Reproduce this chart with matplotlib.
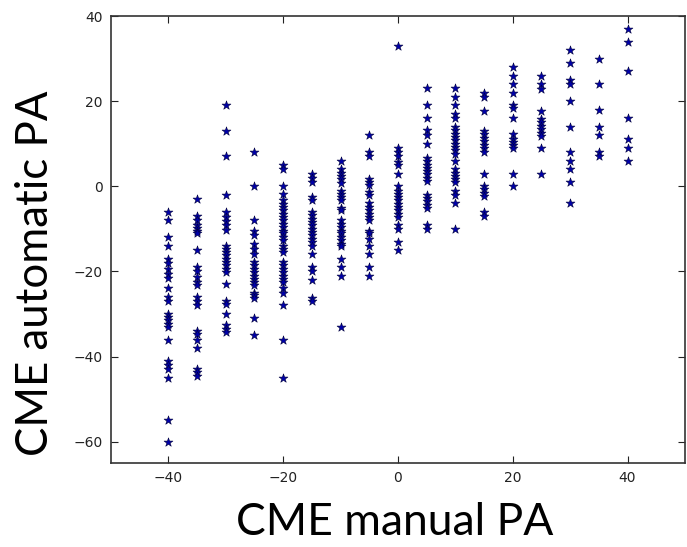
import numpy as np
import matplotlib
matplotlib.use("Agg")
import matplotlib.pyplot as plt

# manual PA columns and the automatic PA values read for each
manual_pa = [-40, -35, -30, -25, -20, -15, -10, -5, 0, 5, 10, 15, 20, 25, 30, 35, 40]

auto_m40 = [-6, -8, -12, -14, -17, -18, -19.5, -20.5, -21.5, -24, -26, -27, -30, -30.7,
            -31.5, -32.3, -33, -36, -41, -42, -43, -45, -55, -60]
auto_m35 = [-3, -7, -8, -9, -9.7, -10.5, -11, -15, -19, -20, -21.3, -22.5, -23.3, -26, -27,
            -28, -34, -34.7, -36, -38, -43, -43.7, -44.5]
auto_m30 = [19, 13, 7, -2, -6, -7.2, -8.2, -9.2, -10.2, -14, -14.7, -15.5, -16.2, -17,
            -17.8, -18.6, -19.4, -20.2, -23, -27, -27.6, -30, -32.7, -33.5, -34.3]
auto_m25 = [8, 0, -8, -10.4, -11.5, -13.5, -14.7, -16, -17.8, -18.6, -19.4, -20.2, -21,
            -21.7, -22.5, -23.3, -25, -25.6, -26.3, -31, -35]
auto_m20 = [5, 4, 0, -1.7, -3.3, -4.1, -4.9, -5.6, -6.4, -7.2, -8, -8.8, -9.6, -10.4, -11,
            -12, -12.7, -14, -14.7, -15.5, -17.8, -18.6, -19.4, -20.2, -21, -21.7, -22.5,
            -24, -25, -28, -36, -45]
auto_m15 = [3, 2, 1, -2.5, -3.3, -6, -6.8, -7.6, -8.4, -9.2, -10, -10.7, -11.5, -12.3,
            -13.1, -14, -16, -19, -20, -22, -26.3, -27]
auto_m10 = [6, 4, 3.1, 2.4, 1.6, 0.8, -1, -1.7, -2.5, -3.3, -5, -5.6, -8, -8.8, -9.6,
            -10.4, -11, -12, -12.7, -13.5, -14, -17, -19, -21, -33]
auto_m05 = [12, 8, 7, 1.8, 1, 0.2, -1.3, -2, -4, -4.9, -5.6, -6.4, -7.2, -8, -10.4, -11,
            -12.3, -14, -16, -19, -21]
auto_p00 = [33, 9, 8, 7, 5.7, 4.9, 3, 0, -1, -1.7, -2.5, -3.3, -4.1, -4.9, -5.6, -6.4,
            -7.2, -9, -10, -13, -15]
auto_p05 = [23, 19, 16, 13.2, 12, 10, 6.7, 5.9, 5.1, 4.3, 3.5, 2.8, 2, 1.2, -2, -2.7,
            -3.5, -4.3, -5, -9, -10]
auto_p10 = [23, 21, 19, 17, 16, 14, 13.2, 12.4, 11.6, 10.8, 10, 9.3, 8.5, 7.7, 6, 4, 3.2,
            2.4, 1.6, 0.9, -1, -2, -4, -10]
auto_p15 = [22, 21, 17.6, 13, 12.2, 11.4, 10.6, 9.8, 9, 8, 3, 0, -0.7, -1.5, -2.3, -6, -7]
auto_p20 = [28, 26, 24, 22, 19, 18.3, 16, 12.2, 11.2, 10.4, 9.6, 9, 3, 0]
auto_p25 = [26, 24, 22.8, 17.8, 15.8, 15, 14.2, 13.4, 12.6, 11.8, 9, 3]
auto_p30 = [32, 29, 25, 24, 20, 14, 8, 6, 4, 1, -4]
auto_p35 = [30, 24, 18, 14, 12, 8, 7]
auto_p40 = [37, 34, 27, 16, 11, 9, 6]

auto_pa = [auto_m40, auto_m35, auto_m30, auto_m25, auto_m20, auto_m15, auto_m10, auto_m05,
           auto_p00, auto_p05, auto_p10, auto_p15, auto_p20, auto_p25, auto_p30, auto_p35,
           auto_p40]

xs = np.concatenate([[m] * len(v) for m, v in zip(manual_pa, auto_pa)])
ys = np.concatenate(auto_pa)

fig = plt.figure(figsize=(6.87, 5.47), dpi=100)
ax = fig.add_axes([0.1616, 0.1536, 0.8354, 0.8171])

ax.scatter(xs, ys, marker='*', s=45, c='#0000a8', edgecolors='#00003a', linewidths=0.4,
           zorder=3)

ax.set_xlim(-50, 50)
ax.set_ylim(-65, 40)
ax.set_xticks([-40, -20, 0, 20, 40])
ax.set_yticks([-60, -40, -20, 0, 20, 40])
ax.tick_params(direction='in', top=True, right=True, length=5, width=0.8,
               labelsize=10, colors='#222222', pad=6)
for sp in ax.spines.values():
    sp.set_linewidth(1.2)
    sp.set_color('#333333')

fig.text(0.052, 0.5, 'CME automatic PA', rotation=90, ha='center', va='center',
         fontsize=31.5, family=['Lato', 'DejaVu Sans'])
fig.text(0.574, 0.045, 'CME manual PA', ha='center', va='center',
         fontsize=32, family=['Lato', 'DejaVu Sans'])

fig.savefig('out.png', dpi=100)
